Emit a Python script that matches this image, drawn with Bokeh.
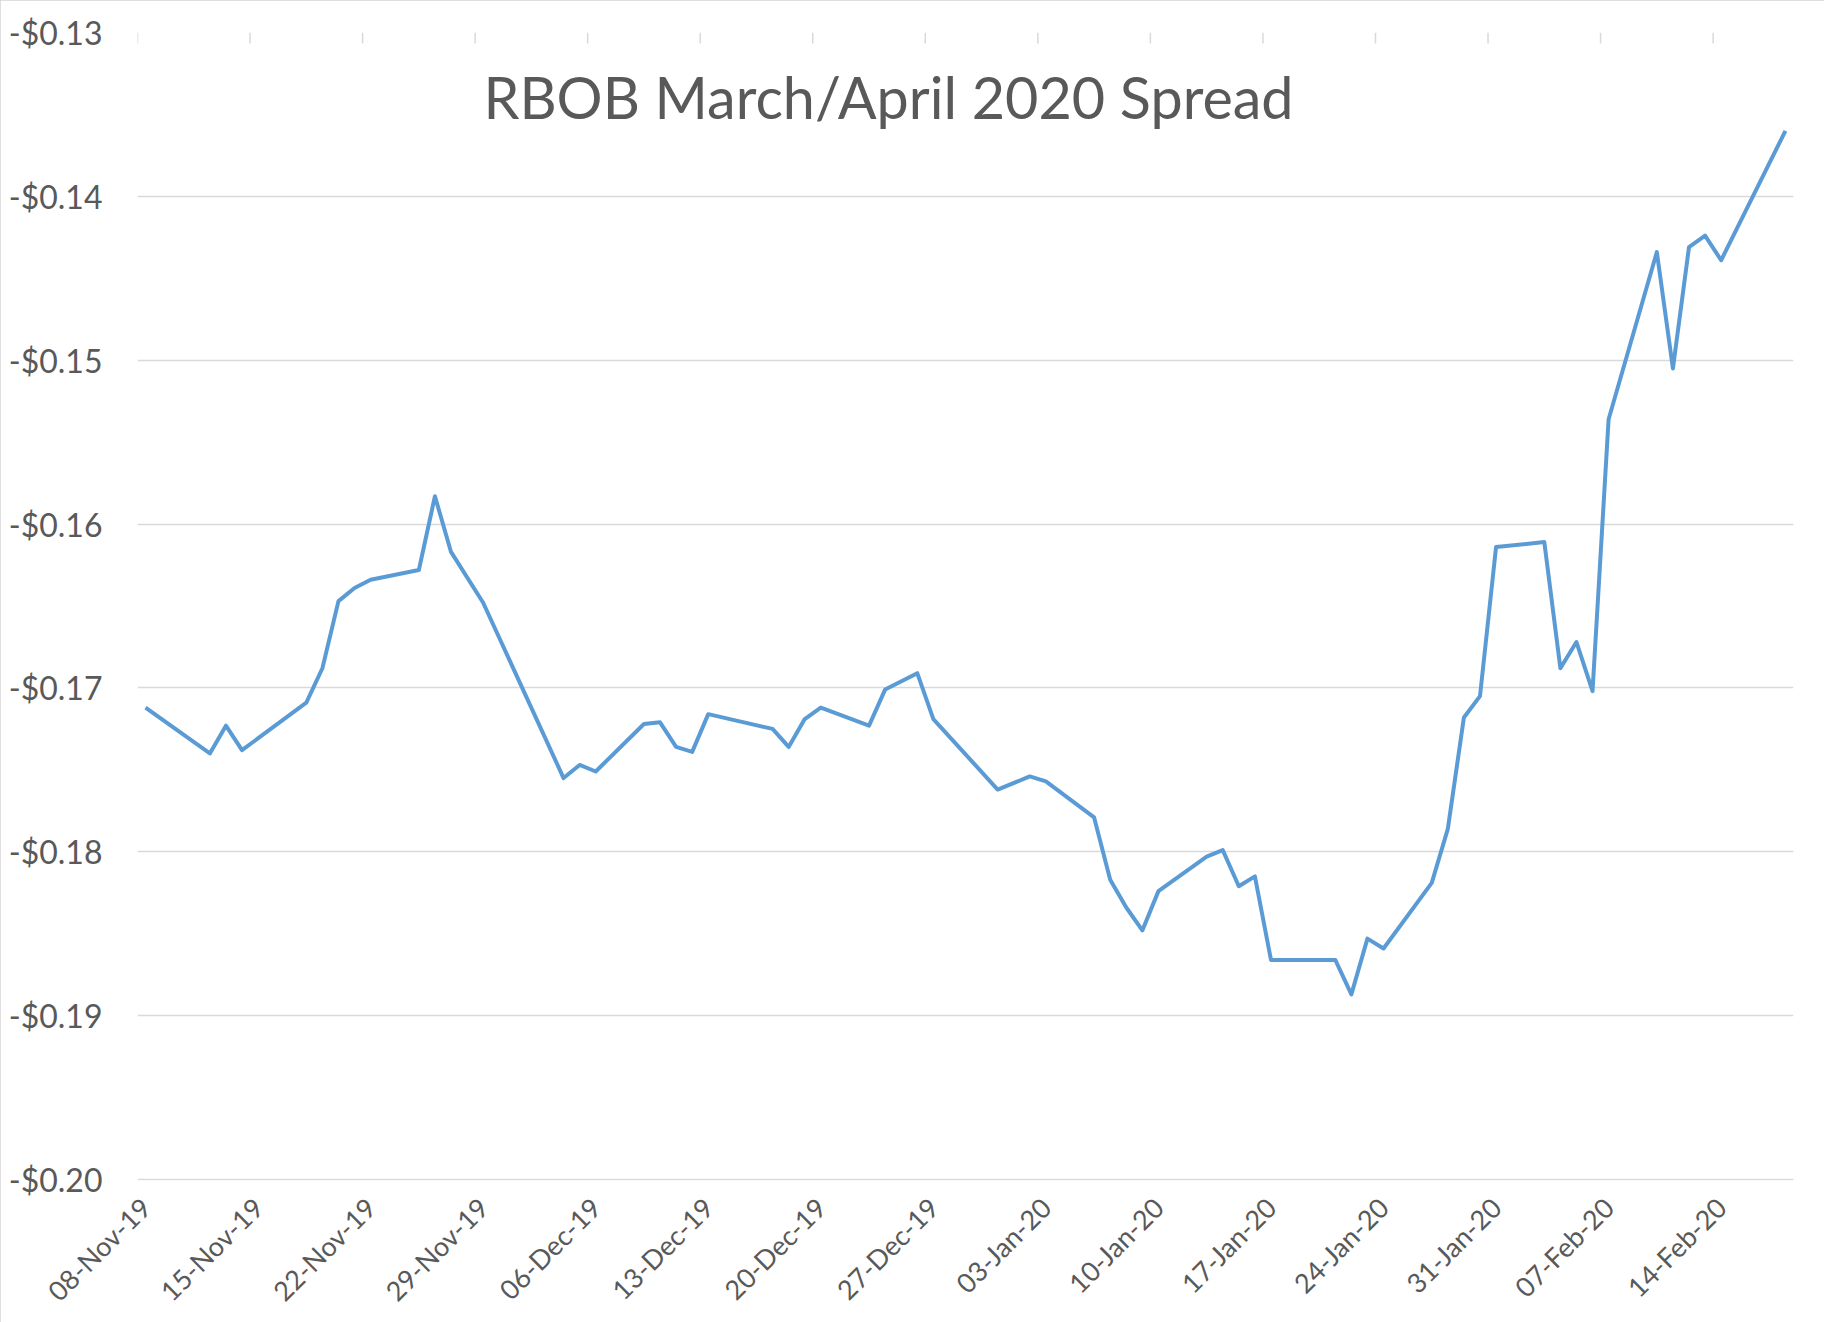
import math
import pandas as pd
from bokeh.plotting import figure
from bokeh.models import (Range1d, FixedTicker, CustomJSTickFormatter, Label,
                          DatetimeTickFormatter)
from bokeh.embed import file_html
from bokeh.resources import INLINE

# ---- data ----
trade_dates = [
    "2019-11-08", "2019-11-12", "2019-11-13", "2019-11-14", "2019-11-18", "2019-11-19",
    "2019-11-20", "2019-11-21", "2019-11-22", "2019-11-25", "2019-11-26", "2019-11-27",
    "2019-11-29", "2019-12-04", "2019-12-05", "2019-12-06", "2019-12-09", "2019-12-10",
    "2019-12-11", "2019-12-12", "2019-12-13", "2019-12-17", "2019-12-18", "2019-12-19",
    "2019-12-20", "2019-12-23", "2019-12-24", "2019-12-26", "2019-12-27", "2019-12-31",
    "2020-01-02", "2020-01-03", "2020-01-06", "2020-01-07", "2020-01-08", "2020-01-09",
    "2020-01-10", "2020-01-13", "2020-01-14", "2020-01-15", "2020-01-16", "2020-01-17",
    "2020-01-21", "2020-01-22", "2020-01-23", "2020-01-24", "2020-01-27", "2020-01-28",
    "2020-01-29", "2020-01-30", "2020-01-31", "2020-02-03", "2020-02-04", "2020-02-05",
    "2020-02-06", "2020-02-07", "2020-02-10", "2020-02-11", "2020-02-12", "2020-02-13",
    "2020-02-14", "2020-02-18",
]
spread = [
    -0.1712, -0.1740, -0.1723, -0.1738, -0.1709, -0.1688,
    -0.1647, -0.1639, -0.1634, -0.1628, -0.1583, -0.1617,
    -0.1648, -0.1755, -0.1747, -0.1751, -0.1722, -0.1721,
    -0.1736, -0.1739, -0.1716, -0.1725, -0.1736, -0.1719,
    -0.1712, -0.1723, -0.1701, -0.1691, -0.1719, -0.1762,
    -0.1754, -0.1757, -0.1779, -0.1817, -0.1834, -0.1848,
    -0.1824, -0.1803, -0.1799, -0.1821, -0.1815, -0.1866,
    -0.1866, -0.1887, -0.1853, -0.1859, -0.1819, -0.1786,
    -0.1718, -0.1705, -0.1614, -0.1611, -0.1688, -0.1672,
    -0.1702, -0.1536, -0.1434, -0.1505, -0.1431, -0.1424,
    -0.1439, -0.1360,
]
x_tick_dates = [
    "2019-11-08", "2019-11-15", "2019-11-22", "2019-11-29", "2019-12-06", "2019-12-13",
    "2019-12-20", "2019-12-27", "2020-01-03", "2020-01-10", "2020-01-17", "2020-01-24",
    "2020-01-31", "2020-02-07", "2020-02-14",
]
y_ticks = [-0.20, -0.19, -0.18, -0.17, -0.16, -0.15, -0.14, -0.13]
title_text = "RBOB March/April 2020 Spread"

# ---- helpers ----
def ms(ts):
    return pd.Timestamp(ts).value / 1e6

HALF_DAY = 12 * 3600 * 1000
x_dates = pd.to_datetime(trade_dates)
label_ticks = [ms(d) for d in x_tick_dates]
slot_ticks = [t - HALF_DAY for t in label_ticks]

TXT = "#595959"
GRID = "#d9d9d9"
FONT = "Lato"

W, H = 1824, 1322
LEFT, RIGHT, TOP = 137, 31, 32

p = figure(width=W, height=H, x_axis_type="datetime",
           x_range=Range1d(ms(trade_dates[0]) - HALF_DAY, ms(trade_dates[-1]) + HALF_DAY),
           y_range=Range1d(y_ticks[0] - 0.00006, y_ticks[-1]),
           output_backend="svg", toolbar_location=None,
           min_border_left=LEFT, min_border_right=RIGHT,
           min_border_top=TOP, min_border_bottom=60)
p.outline_line_color = None
p.background_fill_color = "white"
p.border_fill_color = "white"
p.styles = {"outline": "3px solid #d4d4d4", "outline-offset": "-3px"}

# grid
p.xgrid.grid_line_color = None
p.ygrid.ticker = FixedTicker(ticks=y_ticks)
p.ygrid.grid_line_color = GRID
p.ygrid.grid_line_width = 1.5

# y axis
ya = p.yaxis[0]
ya.ticker = FixedTicker(ticks=y_ticks)
ya.formatter = CustomJSTickFormatter(code="return '-$' + Math.abs(tick).toFixed(2);")
ya.axis_line_color = None
ya.major_tick_line_color = None
ya.minor_tick_line_color = None
ya.major_tick_out = 0
ya.major_tick_in = 0
ya.major_label_standoff = 35
ya.major_label_text_font = FONT
ya.major_label_text_font_size = "32px"
ya.major_label_text_color = TXT

# x axis (rotated date labels)
xa = p.xaxis[0]
xa.ticker = FixedTicker(ticks=label_ticks)
fmt = "%d-%b-%y"
xa.formatter = DatetimeTickFormatter(days=fmt, months=fmt, years=fmt, hours=fmt,
                                     hourmin=fmt, minutes=fmt, minsec=fmt, seconds=fmt,
                                     milliseconds=fmt, microseconds=fmt)
xa.axis_line_color = None
xa.major_tick_line_color = None
xa.minor_tick_line_color = None
xa.major_tick_out = 0
xa.major_tick_in = 0
xa.major_label_orientation = math.pi / 4
xa.major_label_standoff = 22
xa.major_label_text_font = FONT
xa.major_label_text_font_size = "27px"
xa.major_label_text_color = TXT

# top tick marks (Excel date axis: ticks between day slots)
top_val = y_ticks[-1]
tick_len = (y_ticks[-1] - y_ticks[0]) * 11 / 1150
p.segment(x0=slot_ticks, y0=[top_val] * len(slot_ticks),
          x1=slot_ticks, y1=[top_val - tick_len] * len(slot_ticks),
          line_color=GRID, line_width=1.5)

# series
p.line(x_dates, spread, line_color="#5B9BD5", line_width=4, line_join="round")

# title inside plot area
p.add_layout(Label(x=ms("2019-12-24 05:00"), y=-0.1339, text=title_text,
                   text_font=FONT, text_font_size="57.5px", text_color=TXT,
                   text_align="center", text_baseline="middle"))

open("out.html", "w").write(file_html(p, INLINE))
